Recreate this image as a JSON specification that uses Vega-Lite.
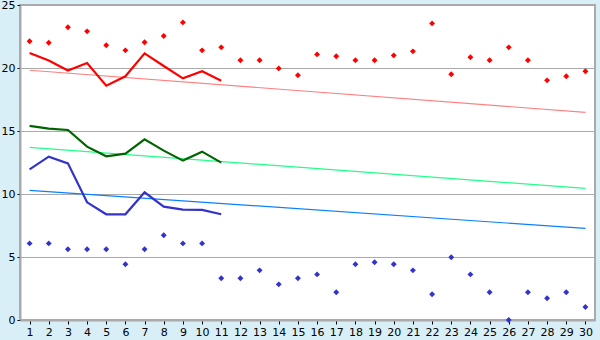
{
  "$schema": "https://vega.github.io/schema/vega-lite/v6.json",
  "width": 575,
  "height": 315,
  "autosize": {"type": "none"},
  "padding": {"left": 20, "top": 5, "right": 5, "bottom": 20},
  "background": "#d9eff7",
  "config": {
    "view": {"fill": "white", "stroke": "#aaaaaa", "strokeWidth": 2},
    "axis": {"labelFont": "DejaVu Sans", "labelFontSize": 11, "labelColor": "black", "domainColor": "#aaaaaa", "domainWidth": 2, "tickColor": "black", "title": null}
  },
  "datasets": {
    "pts": [
      {"day": 1, "hi": 22.12, "lo": 6.08}, {"day": 2, "hi": 22.01, "lo": 6.08}, {"day": 3, "hi": 23.23, "lo": 5.61},
      {"day": 4, "hi": 22.91, "lo": 5.61}, {"day": 5, "hi": 21.8, "lo": 5.61}, {"day": 6, "hi": 21.4, "lo": 4.42},
      {"day": 7, "hi": 22.04, "lo": 5.61}, {"day": 8, "hi": 22.54, "lo": 6.72}, {"day": 9, "hi": 23.62, "lo": 6.08},
      {"day": 10, "hi": 21.4, "lo": 6.08}, {"day": 11, "hi": 21.64, "lo": 3.31}, {"day": 12, "hi": 20.61, "lo": 3.31},
      {"day": 13, "hi": 20.61, "lo": 3.94}, {"day": 14, "hi": 19.97, "lo": 2.83}, {"day": 15, "hi": 19.42, "lo": 3.31},
      {"day": 16, "hi": 21.08, "lo": 3.62}, {"day": 17, "hi": 20.93, "lo": 2.2}, {"day": 18, "hi": 20.61, "lo": 4.42},
      {"day": 19, "hi": 20.61, "lo": 4.58}, {"day": 20, "hi": 21.0, "lo": 4.42}, {"day": 21, "hi": 21.32, "lo": 3.94},
      {"day": 22, "hi": 23.54, "lo": 2.04}, {"day": 23, "hi": 19.5, "lo": 4.98}, {"day": 24, "hi": 20.85, "lo": 3.62},
      {"day": 25, "hi": 20.61, "lo": 2.2}, {"day": 26, "hi": 21.64, "lo": 0.0}, {"day": 27, "hi": 20.61, "lo": 2.2},
      {"day": 28, "hi": 19.02, "lo": 1.72}, {"day": 29, "hi": 19.34, "lo": 2.2}, {"day": 30, "hi": 19.74, "lo": 1.03}
    ],
    "lines": [
      {"day": 1, "s": "r", "v": 21.19}, {"day": 2, "s": "r", "v": 20.6}, {"day": 3, "s": "r", "v": 19.8},
      {"day": 4, "s": "r", "v": 20.4}, {"day": 5, "s": "r", "v": 18.6}, {"day": 6, "s": "r", "v": 19.34},
      {"day": 7, "s": "r", "v": 21.16}, {"day": 8, "s": "r", "v": 20.16}, {"day": 9, "s": "r", "v": 19.18},
      {"day": 10, "s": "r", "v": 19.74}, {"day": 11, "s": "r", "v": 18.99},
      {"day": 1, "s": "g", "v": 15.4}, {"day": 2, "s": "g", "v": 15.19}, {"day": 3, "s": "g", "v": 15.08},
      {"day": 4, "s": "g", "v": 13.76}, {"day": 5, "s": "g", "v": 12.99}, {"day": 6, "s": "g", "v": 13.2},
      {"day": 7, "s": "g", "v": 14.34}, {"day": 8, "s": "g", "v": 13.44}, {"day": 9, "s": "g", "v": 12.65},
      {"day": 10, "s": "g", "v": 13.36}, {"day": 11, "s": "g", "v": 12.49},
      {"day": 1, "s": "b", "v": 11.96}, {"day": 2, "s": "b", "v": 12.96}, {"day": 3, "s": "b", "v": 12.43},
      {"day": 4, "s": "b", "v": 9.34}, {"day": 5, "s": "b", "v": 8.39}, {"day": 6, "s": "b", "v": 8.39},
      {"day": 7, "s": "b", "v": 10.13}, {"day": 8, "s": "b", "v": 9.0}, {"day": 9, "s": "b", "v": 8.76},
      {"day": 10, "s": "b", "v": 8.74}, {"day": 11, "s": "b", "v": 8.39}
    ],
    "trends": [
      {"day": 1, "s": "tr", "v": 19.82}, {"day": 30, "s": "tr", "v": 16.48},
      {"day": 1, "s": "tg", "v": 13.7}, {"day": 30, "s": "tg", "v": 10.45},
      {"day": 1, "s": "tb", "v": 10.29}, {"day": 30, "s": "tb", "v": 7.27}
    ]
  },
  "layer": [
    {
      "data": {"name": "trends"},
      "mark": {"type": "line", "strokeWidth": 1.2},
      "encoding": {
        "x": {"field": "day", "type": "quantitative", "scale": {"domain": [0.5, 30.5], "nice": false},
              "axis": {"values": [1,2,3,4,5,6,7,8,9,10,11,12,13,14,15,16,17,18,19,20,21,22,23,24,25,26,27,28,29,30], "tickCount": 30, "grid": false, "tickSize": 4, "labelPadding": 2, "format": "d", "labelFlush": false, "labelOverlap": false}},
        "y": {"field": "v", "type": "quantitative", "scale": {"domain": [0, 25], "nice": false},
              "axis": {"values": [0, 5, 10, 15, 20, 25], "tickCount": 6, "grid": true, "gridColor": "#aaaaaa", "gridOpacity": 1, "gridWidth": 1, "tickSize": 3, "labelPadding": 2, "labelFlush": false}},
        "detail": {"field": "s"},
        "color": {"field": "s", "type": "nominal", "legend": null,
                  "scale": {"domain": ["tr", "tg", "tb", "r", "g", "b"], "range": ["#ff8080", "#22ff88", "#0a80ff", "#ff0000", "#006400", "#3333cc"]}}
      }
    },
    {
      "data": {"name": "lines"},
      "mark": {"type": "line", "strokeWidth": 2.2},
      "encoding": {
        "x": {"field": "day", "type": "quantitative"},
        "y": {"field": "v", "type": "quantitative"},
        "color": {"field": "s", "type": "nominal", "legend": null}
      }
    },
    {
      "data": {"name": "pts"},
      "mark": {"type": "point", "shape": "diamond", "filled": true, "size": 35, "color": "#ff0000", "opacity": 1},
      "encoding": {
        "x": {"field": "day", "type": "quantitative"},
        "y": {"field": "hi", "type": "quantitative"}
      }
    },
    {
      "data": {"name": "pts"},
      "mark": {"type": "point", "shape": "diamond", "filled": true, "size": 35, "color": "#3333cc", "opacity": 1},
      "encoding": {
        "x": {"field": "day", "type": "quantitative"},
        "y": {"field": "lo", "type": "quantitative"}
      }
    }
  ]
}
